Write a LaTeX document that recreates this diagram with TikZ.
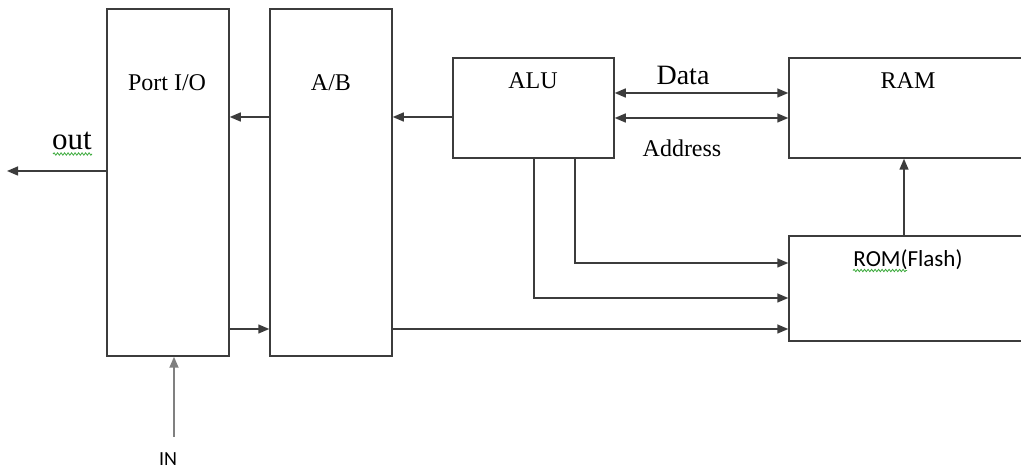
\documentclass[tikz,border=0pt]{standalone}
\usepackage{fontspec}
\setmainfont{Liberation Serif}
\newfontfamily\calfont{Carlito}
\usetikzlibrary{positioning,arrows.meta,calc,decorations.pathmorphing}
\definecolor{linec}{RGB}{60,60,60}
\definecolor{squig}{RGB}{60,170,60}

\begin{document}
\begin{tikzpicture}[x=1pt,y=-1pt, >={Triangle[length=11pt,width=9pt]},
  line width=1.5pt, draw=linec,
  blk/.style={draw=linec,inner sep=0pt,minimum width=122pt,minimum height=347pt},
  wide/.style={draw=linec,inner sep=0pt,minimum width=251pt,minimum height=#1},
  lbl/.style={anchor=base,inner sep=0pt,font=\fontsize{24}{28}\selectfont},
  sans/.style={anchor=base,inner sep=0pt,font=\calfont\fontsize{#1}{#1}\selectfont},
  wavy/.style={draw=squig,line width=0.8pt,decorate,decoration={snake,amplitude=1.2pt,segment length=3.5pt}}]
  \useasboundingbox (0,0) rectangle (1021,470);
  \clip (0,0) rectangle (1021,470);
  % blocks
  \node[blk](port) at (168,182.5){};
  \node[blk](ab) at (331,182.5){};
  \node[draw=linec,inner sep=0pt,minimum width=161pt,minimum height=100pt](alu) at (533.5,108){};
  \node[wide=100pt](ram) at (914.5,108){};
  \node[wide=105pt](rom) at (914.5,288.5){};
  % labels
  \node[lbl] at (167,91){Port I/O};
  \node[lbl] at (331,91){A/B};
  \node[lbl] at (533,89){ALU};
  \node[lbl] at (908,89){RAM};
  \node[lbl,font=\fontsize{28}{32}\selectfont] at (683,85){Data};
  \node[lbl] at (682,157){Address};
  \node[lbl,font=\fontsize{31}{34}\selectfont](outlbl) at (72,150){out};
  \node[sans=23](romlbl) at (908,267){ROM(Flash)};
  \node[sans=20](inlbl) at (168,465){IN};
  \draw[wavy] (53,154) -- (92,154);
  \draw[wavy] (853,270.5) -- (907,270.5);
  % rows and columns of the connectors
  \coordinate(rowA) at (0,117);
  \coordinate(rowD) at (0,93);
  \coordinate(rowR) at (0,118);
  \coordinate(rowB) at (0,263);
  \coordinate(rowC) at (0,298);
  \coordinate(rowE) at (0,329);
  \coordinate(rowO) at (0,171);
  \coordinate(colA) at (534,0);
  \coordinate(colB) at (575,0);
  \coordinate(colR) at (904,0);
  \coordinate(outend) at (7,171);
  \coordinate(inend) at (174,437);
  % connectors
  \draw[->](ab.west|-rowA)--(port.east|-rowA);
  \draw[->](alu.west|-rowA)--(ab.east|-rowA);
  \draw[<->](alu.east|-rowD)--(ram.west|-rowD);
  \draw[<->](alu.east|-rowR)--(ram.west|-rowR);
  \draw[->](alu.south-|colB)|-(rom.west|-rowB);
  \draw[->](alu.south-|colA)|-(rom.west|-rowC);
  \draw[->](ab.east|-rowE)--(rom.west|-rowE);
  \draw[->](port.east|-rowE)--(ab.west|-rowE);
  \draw[->](rom.north-|colR)--(ram.south-|colR);
  \draw[->](port.west|-rowO)--(outend);
  \draw[->,draw=gray,line width=1.8pt](inend)--(port.south-|inend);
\end{tikzpicture}
\end{document}
